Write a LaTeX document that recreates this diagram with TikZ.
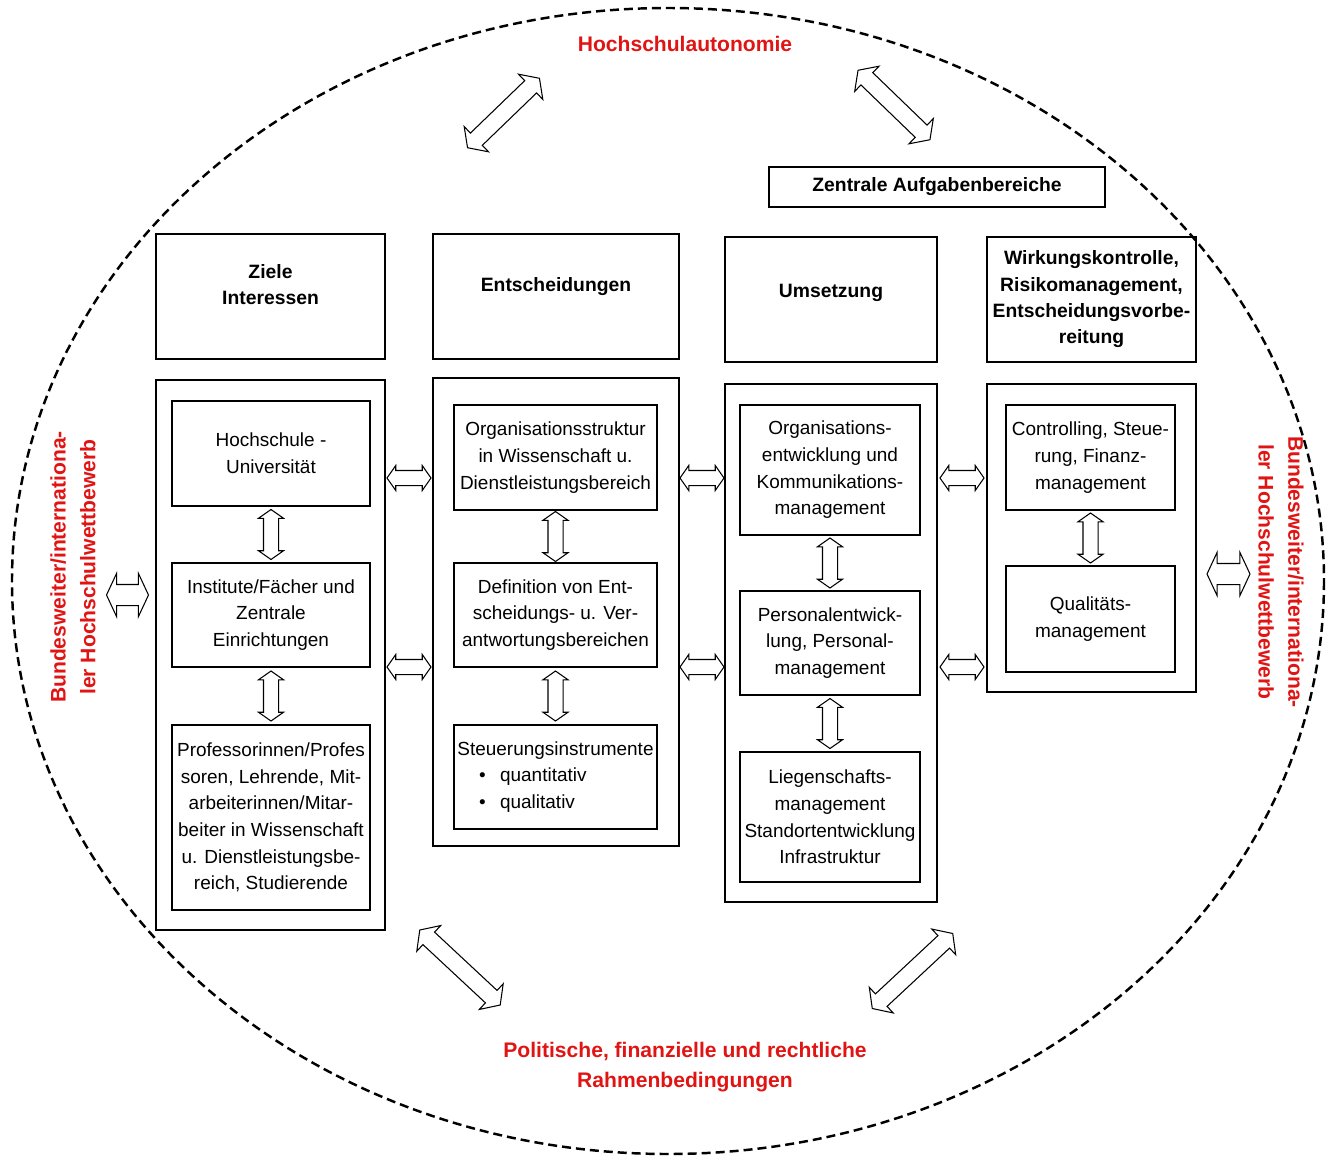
\documentclass[tikz,border=0pt]{standalone}
\usepackage{fontspec}
\setmainfont{Liberation Sans}
\usepackage{tikz}
\usepackage{xcolor}
\usetikzlibrary{shapes.arrows, calc}
\definecolor{titlered}{RGB}{225,20,20}
\tikzstyle{frame} = [draw=black, line width=1.4pt, dash pattern=on 0.18cm off 0.1cm]
\tikzstyle{header} = [rectangle, draw=black, line width=0.8pt, align=center, inner sep=1pt, font=\bfseries\fontsize{11}{15}\selectfont]
\tikzstyle{column} = [rectangle, draw=black, line width=0.8pt]
\tikzstyle{inner} = [rectangle, draw=black, line width=0.8pt, align=center, inner sep=1pt, font=\fontsize{10.8}{15.2}\selectfont]
\tikzstyle{redlabel} = [align=center, text=titlered, font=\bfseries\fontsize{12}{17}\selectfont]
\tikzstyle{dblarrow} = [double arrow, draw=black, fill=white, line width=0.6pt, inner xsep=0pt, inner ysep=0.14cm, double arrow head extend=0.1cm, double arrow tip angle=110, minimum height=0.88cm]
\tikzstyle{sidearrow} = [dblarrow, inner ysep=0.2cm, double arrow head extend=0.22cm, double arrow tip angle=130, minimum height=0.86cm]
\tikzstyle{bigarrow} = [dblarrow, inner ysep=0.16cm, double arrow head extend=0.18cm, minimum height=2cm]

\begin{document}
\begin{tikzpicture}[x=0.02cm, y=-0.02cm]
		\useasboundingbox (0,0) rectangle (1330,1160);
		\draw [frame] (668,581) ellipse [x radius=656, y radius=573];
		
		\node (autonomie) [redlabel] at (685,44) {Hochschulautonomie};
		\node (rahmen) [redlabel] at (685,1067) {Politische, finanzielle und rechtliche\\Rahmenbedingungen};
		\node (wettl) [redlabel, rotate=90] at (73,567) {Bundesweiter/internationa-\\ler Hochschulwettbewerb};
		\node (wettr) [redlabel, rotate=-90] at (1281,572) {Bundesweiter/internationa-\\ler Hochschulwettbewerb};
		
		\node (zentral) [header, minimum width=6.72cm, minimum height=0.8cm] at (937,187) {Zentrale Aufgabenbereiche};
		\node (ziele) [header, minimum width=4.58cm, minimum height=2.5cm, text depth=0.48cm] at (270.5,296.5) {Ziele\\Interessen};
		\node (entsch) [header, minimum width=4.92cm, minimum height=2.5cm, text depth=0.48cm] at (556,296.5) {Entscheidungen};
		\node (umsetz) [header, minimum width=4.24cm, minimum height=2.5cm, text depth=0.36cm] at (831,299.5) {Umsetzung};
		\node (wirk) [header, minimum width=4.18cm, minimum height=2.5cm] at (1091.5,299.5) {Wirkungskontrolle,\\Risikomanagement,\\Entscheidungsvorbe-\\reitung};
		
		\node (col1) [column, minimum width=4.58cm, minimum height=11cm] at (270.5,655) {};
		\node (col2) [column, minimum width=4.92cm, minimum height=9.36cm] at (556,612) {};
		\node (col3) [column, minimum width=4.24cm, minimum height=10.36cm] at (831,643) {};
		\node (col4) [column, minimum width=4.18cm, minimum height=6.16cm] at (1091.5,538) {};
		
		\node (hs) [inner, minimum width=3.96cm, minimum height=2.1cm] at (271,453.5) {Hochschule -\\Universität};
		\node (inst) [inner, minimum width=3.96cm, minimum height=2.08cm] at (271,615) {Institute/Fächer und\\Zentrale\\Einrichtungen};
		\node (prof) [inner, minimum width=3.96cm, minimum height=3.7cm] at (271,817.5) {Professorinnen/Profes\\soren, Lehrende, Mit-\\arbeiterinnen/Mitar-\\beiter in Wissenschaft\\u. Dienstleistungsbe-\\reich, Studierende};
		
		\node (org) [inner, minimum width=4.06cm, minimum height=2.1cm] at (555.5,457.5) {Organisationsstruktur\\in Wissenschaft u.\\Dienstleistungsbereich};
		\node (def) [inner, minimum width=4.06cm, minimum height=2.08cm] at (555.5,615) {Definition von Ent-\\scheidungs- u. Ver-\\antwortungsbereichen};
		\node (steu) [inner, align=left, minimum width=4.06cm, minimum height=2.08cm] at (555.5,777) {Steuerungsinstrumente\\
			\hspace*{1.15em}\textbullet\hspace{0.75em}quantitativ\\
			\hspace*{1.15em}\textbullet\hspace{0.75em}qualitativ};
		
		\node (orgent) [inner, minimum width=3.6cm, minimum height=2.6cm] at (830,470) {Organisations-\\entwicklung und\\Kommunikations-\\management};
		\node (pers) [inner, minimum width=3.6cm, minimum height=2.08cm] at (830,643) {Personalentwick-\\lung, Personal-\\management};
		\node (lieg) [inner, minimum width=3.6cm, minimum height=2.6cm] at (830,817) {Liegenschafts-\\management\\Standortentwicklung\\Infrastruktur};
		
		\node (contr) [inner, minimum width=3.38cm, minimum height=2.1cm] at (1090.5,457.5) {Controlling, Steue-\\rung, Finanz-\\management};
		\node (qual) [inner, minimum width=3.38cm, minimum height=2.12cm] at (1090.5,619) {Qualitäts-\\management};
		
		% vertical arrows inside the columns
		\node (va1) [dblarrow, rotate=90, minimum height=1cm] at ($(hs.south)!0.5!(inst.north)$) {};
		\node (va2) [dblarrow, rotate=90, minimum height=1cm] at ($(inst.south)!0.5!(prof.north)$) {};
		\node (vb1) [dblarrow, rotate=90, minimum height=1cm] at ($(org.south)!0.5!(def.north)$) {};
		\node (vb2) [dblarrow, rotate=90, minimum height=1cm] at ($(def.south)!0.5!(steu.north)$) {};
		\node (vc1) [dblarrow, rotate=90, minimum height=1cm] at ($(orgent.south)!0.5!(pers.north)$) {};
		\node (vc2) [dblarrow, rotate=90, minimum height=1cm] at ($(pers.south)!0.5!(lieg.north)$) {};
		\node (vd1) [dblarrow, rotate=90, minimum height=1cm] at ($(contr.south)!0.5!(qual.north)$) {};
		
		% arrows between the columns
		\node (ha1) [dblarrow] at (409,478) {};
		\node (ha2) [dblarrow] at (409,667) {};
		\node (hb1) [dblarrow] at (702,478) {};
		\node (hb2) [dblarrow] at (702,667) {};
		\node (hc1) [dblarrow] at (962,478) {};
		\node (hc2) [dblarrow] at (962,667) {};
		\node (sl) [sidearrow, minimum height=0.84cm] at (127.5,595) {};
		\node (sr) [sidearrow] at (1228.5,574) {};
		
		% arrows to the frame
		\node (dtl) [bigarrow, rotate=44] at (503.5,113) {};
		\node (dtr) [bigarrow, rotate=-44] at (894,105) {};
		\node (dbl) [bigarrow, rotate=-43, minimum height=2.2cm] at (460,967.5) {};
		\node (dbr) [bigarrow, rotate=43, minimum height=2.2cm] at (912.5,971) {};
	\end{tikzpicture}
\end{document}
